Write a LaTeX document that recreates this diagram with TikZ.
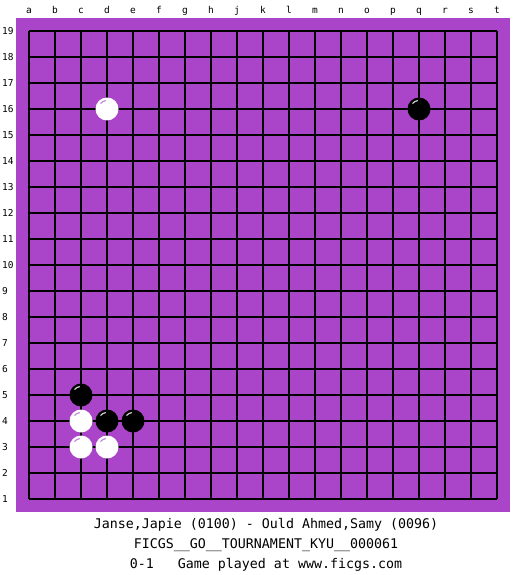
\documentclass[tikz,border=0pt]{standalone}
\usepackage{fontspec}
\setmonofont{DejaVu Sans Mono}
\usetikzlibrary{calc}
\definecolor{board}{RGB}{170,68,200}
\definecolor{hlwhite}{RGB}{190,140,215}
\definecolor{hlblack}{RGB}{210,210,210}
\tikzset{
  gridline/.style={black, line width=1.2pt},
  coordlabel/.style={font=\ttfamily\fontsize{9.5}{10}\selectfont, inner sep=0pt},
  infotext/.style={font=\ttfamily\fontsize{13.3}{14}\selectfont, inner sep=0pt},
  bstone/.style={circle, fill=black, minimum size=23pt, inner sep=0pt},
  wstone/.style={circle, fill=white, minimum size=23pt, inner sep=0pt},
  hlw/.style={hlwhite, line width=1.2pt},
  hlb/.style={hlblack, line width=1.2pt},
}
\begin{document}
\begin{tikzpicture}[x=1pt,y=-1pt]
\useasboundingbox (0,0) rectangle (525,575);
\fill[board] (16,18) rectangle (510,512);
\foreach \i in {0,...,18} {
  \draw[gridline] (29+26*\i,31) -- (29+26*\i,499);
  \draw[gridline] (29,31+26*\i) -- (497,31+26*\i);
}
\foreach \c [count=\i from 0] in {a,b,c,d,e,f,g,h,j,k,l,m,n,o,p,q,r,s,t} {
  \node[coordlabel, anchor=base] (col\c) at (29+26*\i,14) {\c};
}
\foreach \r in {1,...,19} {
  \node[coordlabel, anchor=base west] (row\r) at (2,34.5+26*19-26*\r) {\r};
}
% stones
\node[wstone] (d16) at (107,109) {};
\node[bstone] (q16) at (419,109) {};
\node[bstone] (c5) at (81,395) {};
\node[wstone] (c4) at (81,421) {};
\node[bstone] (d4) at (107,421) {};
\node[bstone] (e4) at (133,421) {};
\node[wstone] (c3) at (81,447) {};
\node[wstone] (d3) at (107,447) {};
\foreach \s in {d16,c4,c3,d3} {
  \draw[hlw] ($(\s.center)+(220:8.5)$) arc (220:262:8.5);
}
\foreach \s in {q16,c5,d4,e4} {
  \draw[hlb] ($(\s.center)+(220:8.5)$) arc (220:262:8.5);
}
\node[infotext, anchor=base] (players) at (266,528) {Janse,Japie (0100) - Ould Ahmed,Samy (0096)};
\node[infotext, anchor=base] (event) at (266,548) {FICGS\_\_GO\_\_TOURNAMENT\_KYU\_\_000061};
\node[infotext, anchor=base] (result) at (266,568) {0-1\ \ \ Game played at www.ficgs.com};
\end{tikzpicture}
\end{document}
